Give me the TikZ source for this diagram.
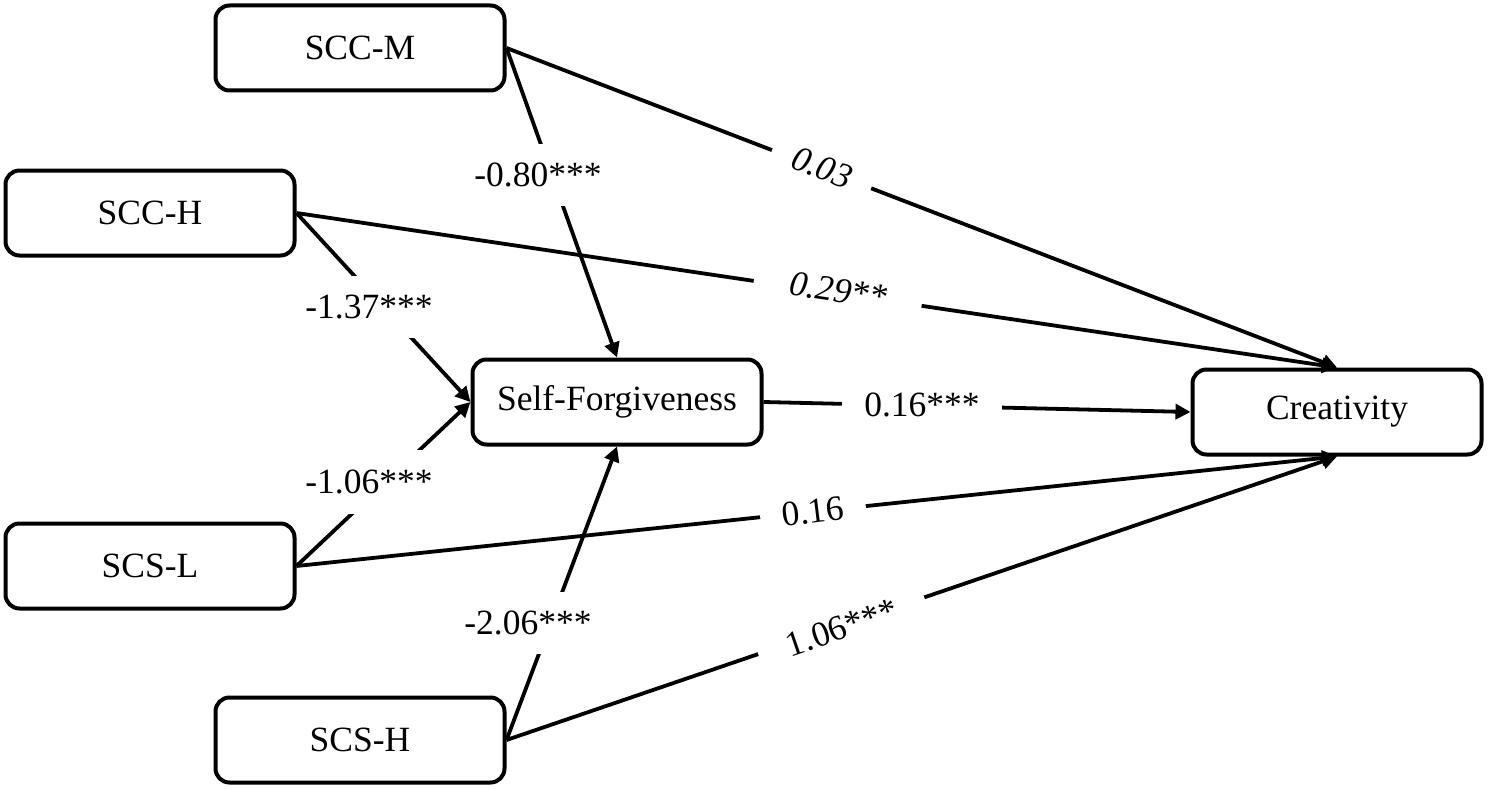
\documentclass[tikz,border=0pt]{standalone}
\usepackage{fontspec}
\setmainfont{Liberation Serif}
\usetikzlibrary{arrows.meta}
\begin{document}
\begin{tikzpicture}[x=1pt,y=-1pt,
  box/.style={draw, line width=4pt, rounded corners=14pt, minimum width=289pt, minimum height=85pt, inner sep=0pt, font=\fontsize{35.5}{40}\selectfont},
  conn/.style={line width=3.8pt, -{Triangle[length=15pt,width=15pt]}},
  lbl/.style={fill=white, inner sep=0pt, text height=24pt, text depth=2pt, font=\fontsize{35.5}{40}\selectfont}]
\useasboundingbox (0,0) rectangle (1488,789);
\node[box] (sccm) at (360,48) {SCC-M};
\node[box] (scch) at (150,213) {SCC-H};
\node[box] (sf) at (617,402) {Self-Forgiveness};
\node[box] (cr) at (1337,412) {Creativity};
\node[box] (scsl) at (150,566) {SCS-L};
\node[box] (scsh) at (360,740) {SCS-H};
% connectors
\draw[conn] (sccm.east) -- (cr.north);
\draw[conn] (sccm.east) -- (sf.north);
\draw[conn] (scch.east) -- (cr.north);
\draw[conn] (scch.east) -- (sf.west);
\draw[conn] (sf.east) -- (cr.west);
\draw[conn] (scsl.east) -- (sf.west);
\draw[conn] (scsl.east) -- (cr.south);
\draw[conn] (scsh.east) -- (sf.south);
\draw[conn] (scsh.east) -- (cr.south);
% labels
\node[lbl, inner ysep=18pt, inner xsep=2pt] (l1) at (538,175) {-0.80***};
\node[lbl, inner ysep=18pt, inner xsep=2pt] (l2) at (369,307) {-1.37***};
\node[lbl, inner ysep=19pt, inner xsep=2pt] (l3) at (369,482) {-1.06***};
\node[lbl, inner ysep=18pt, inner xsep=2pt] (l4) at (528,623) {-2.06***};
\node[lbl, inner ysep=5pt, inner xsep=22pt] (l5) at (922,405) {0.16***};
\node[lbl, inner ysep=4pt, inner xsep=22pt, rotate=-20.8] (l6) at (822,168) {\itshape 0.03};
\node[lbl, inner ysep=4pt, inner xsep=36pt, rotate=-8.4] (l7) at (838,291) {\itshape 0.29**};
\node[lbl, inner ysep=4pt, inner xsep=30pt, rotate=18.9] (l8) at (842,628) {1.06***};
\node[lbl, inner ysep=4pt, inner xsep=22pt, rotate=7] (l9) at (813,512) {0.16};
\end{tikzpicture}
\end{document}
